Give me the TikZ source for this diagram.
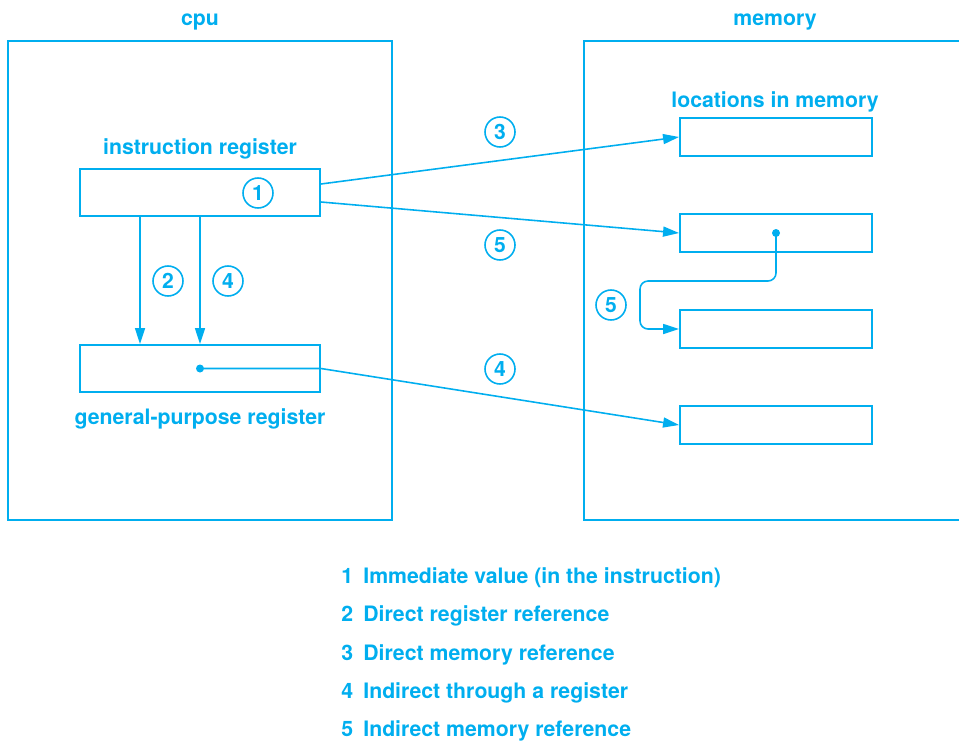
\documentclass[tikz,border=0pt]{standalone}
\usepackage{fontspec}
\setmainfont{TeX Gyre Heros}
\usetikzlibrary{positioning, arrows.meta}
\definecolor{cyanblue}{RGB}{0,174,239}

\tikzset{
  reg/.style={draw=cyanblue, line width=1.1pt, minimum width=4.8cm, minimum height=0.94cm, inner sep=0pt},
  loc/.style={draw=cyanblue, line width=1.1pt, minimum width=3.84cm, minimum height=0.76cm, inner sep=0pt},
  conn/.style={draw=cyanblue, line width=0.9pt, -{Triangle[length=0.32cm,width=0.2cm]}},
  num/.style={circle, draw=cyanblue, line width=0.9pt, minimum size=0.6cm, inner sep=0pt, text=cyanblue, font=\bfseries\fontsize{12}{14}\selectfont},
  lbl/.style={text=cyanblue, font=\bfseries\fontsize{12.1}{14}\selectfont}
}

\begin{document}
\begin{tikzpicture}[x=0.02cm, y=-0.02cm]
\useasboundingbox (0,0) rectangle (959,740);

% ---- cpu ----
\draw[cyanblue, line width=1.1pt] (8,41) rectangle (392,520);
\node[lbl] (cpu) at (200,22) {cpu};
\node[lbl] (irlbl) at (200,149) {instruction register};
\node[reg] (ir) at (200,192.5) {};
\node[num] (c1) at (258,193) {1};
\node[reg] (gpr) at (200,368.5) {};
\node[lbl] (gprlbl) at (200,419) {general-purpose register};
\node[num] (c2) at (168,281) {2};
\node[num] (c4a) at (228,281) {4};
\draw[conn] ([xshift=-1.2cm]ir.south) -- ([xshift=-1.2cm]gpr.north);
\draw[conn] (ir.south) -- (gpr.north);

% ---- memory ----
\draw[cyanblue, line width=1.1pt] (960,41) -- (584,41) -- (584,520) -- (960,520);
\node[lbl] (mem) at (775,22) {memory};
\node[lbl] (loclbl) at (775,102) {locations in memory};
\foreach \i/\y in {1/137, 2/233, 3/329, 4/425} {
  \node[loc] (mem\i) at (776,\y) {};
}
\node[num] (c5b) at (611,305) {5};

% ---- references ----
\node[num] (c3) at (500,132) {3};
\node[num] (c5a) at (500,245) {5};
\node[num] (c4b) at (500,369) {4};
\draw[conn] ([yshift=0.17cm]ir.east) -- (mem1.west);
\draw[conn] ([yshift=-0.19cm]ir.east) -- (mem2.west);
\fill[cyanblue] (gpr.center) circle (0.08cm);
\draw[conn] (gpr.center) -- (gpr.east) -- (mem4.west);
\fill[cyanblue] (mem2.center) circle (0.08cm);
\coordinate (bend) at (640,281);
\draw[conn, rounded corners=0.16cm] (mem2.center) |- (bend) |- (mem3.west);

% ---- legend ----
\foreach \n/\txt [count=\k from 0] in {1/Immediate value (in the instruction), 2/Direct register reference, 3/Direct memory reference, 4/Indirect through a register, 5/Indirect memory reference} {
  \node[lbl, anchor=base west, inner sep=0pt] (key\n) at (341,583.5+38.3*\k) {\n};
  \node[lbl, anchor=base west, inner sep=0pt] (txt\n) at (363,583.5+38.3*\k) {\txt};
}
\end{tikzpicture}
\end{document}
